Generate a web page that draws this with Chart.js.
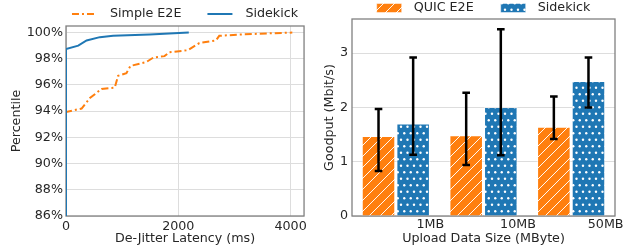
<!DOCTYPE html>
<html lang="en">
<head>
  <meta charset="UTF-8" />
  <title>De-jitter latency and goodput</title>
  <script src="https://cdn.jsdelivr.net/npm/chart.js"></script>
  <style>
    body { margin: 0; background: #fff; }
    .wrap { position: relative; width: 631px; height: 250px; }
    #cdfChart { position: absolute; left: 0; top: 0; }
    #barChart { position: absolute; left: 310px; top: 0; }
  </style>
</head>
<body>
  <div class="wrap">
    <canvas id="cdfChart" width="310" height="250"></canvas>
    <canvas id="barChart" width="321" height="250"></canvas>
  </div>

  <script>
    // left: CDF of de-jitter latency (ms -> percentile)
    const e2eLatency = [0, 0, 278, 426, 633, 869, 928, 1076, 1147, 1430, 1560, 1755, 1844, 2168, 2376, 2672, 2730, 3085, 3676, 4031];
    const e2ePct     = [0, 93.94, 94.2, 95.0, 95.7, 95.8, 96.7, 96.9, 97.45, 97.75, 98.1, 98.2, 98.5, 98.65, 99.2, 99.4, 99.75, 99.85, 99.95, 100];
    const skLatency  = [0, 0, 218, 367, 603, 839, 1489, 2187];
    const skPct      = [0, 98.75, 99.0, 99.4, 99.65, 99.75, 99.85, 100];
    const cdfLabels  = ['Simple E2E', 'Sidekick'];
    const latencyTicks = [0, 2000, 4000];

    // right: goodput per upload size
    const sizes        = ['1MB', '10MB', '50MB'];
    const barLabels    = ['QUIC E2E', 'Sidekick'];
    const quicGoodput  = [1.48, 1.49, 1.65];
    const quicLow      = [0.83, 0.94, 1.42];
    const quicHigh     = [1.97, 2.27, 2.20];
    const skGoodput    = [1.71, 2.01, 2.49];
    const skLow        = [1.13, 1.12, 2.00];
    const skHigh       = [2.92, 3.44, 2.92];

    const ORANGE = '#ff7f0e';
    const BLUE = '#1f77b4';
    const TEXT = '#262626';
    const GRID = '#dddddd';
    const FONT = { family: 'DejaVu Sans', size: 12.7 };

    Chart.defaults.font.family = 'DejaVu Sans';
    Chart.defaults.color = TEXT;

    // hatch patterns
    function hatchPattern() {
      const c = document.createElement('canvas');
      c.width = 11; c.height = 11;
      const g = c.getContext('2d');
      g.fillStyle = ORANGE; g.fillRect(0, 0, 11, 11);
      g.strokeStyle = 'rgba(255,255,255,0.95)'; g.lineWidth = 1;
      g.beginPath();
      g.moveTo(-1, 12); g.lineTo(12, -1);
      g.moveTo(-1, 1); g.lineTo(1, -1);
      g.moveTo(10, 12); g.lineTo(12, 10);
      g.stroke();
      return g.createPattern(c, 'repeat');
    }
    function dotPattern() {
      const c = document.createElement('canvas');
      c.width = 13; c.height = 13;
      const g = c.getContext('2d');
      g.fillStyle = BLUE; g.fillRect(0, 0, 13, 13);
      g.fillStyle = '#ffffff';
      [[3.25, 3.25], [9.75, 3.25], [0, 9.75], [6.5, 9.75], [13, 9.75]].forEach(([x, y]) => {
        g.beginPath(); g.arc(x, y, 1.2, 0, Math.PI * 2); g.fill();
      });
      return g.createPattern(c, 'repeat');
    }
    const hatch = hatchPattern();
    const dots = dotPattern();

    // frame around the plot area
    const framePlugin = {
      id: 'frame',
      beforeDatasetsDraw(chart) {
        const { ctx, chartArea: a } = chart;
        ctx.save();
        ctx.strokeStyle = '#808080';
        ctx.lineWidth = 1.3;
        ctx.strokeRect(a.left, a.top, a.right - a.left, a.bottom - a.top);
        ctx.restore();
      }
    };

    // legend drawn above the plot area, centered on it
    const topLegend = {
      id: 'topLegend',
      afterDraw(chart, args, opts) {
        const { ctx, chartArea: a } = chart;
        ctx.save();
        ctx.font = FONT.size + 'px ' + FONT.family;
        ctx.textBaseline = 'middle';
        const widths = opts.items.map(it => opts.sampleW + opts.gap + ctx.measureText(it.text).width);
        const total = widths.reduce((s, w) => s + w, 0) + opts.spacing * (widths.length - 1);
        let x = (a.left + a.right) / 2 - total / 2;
        const y = opts.y;
        opts.items.forEach((it, i) => {
          if (it.kind === 'line') {
            ctx.strokeStyle = it.color;
            ctx.lineWidth = 2;
            ctx.setLineDash(it.dash || []);
            ctx.beginPath(); ctx.moveTo(x, y); ctx.lineTo(x + opts.sampleW, y); ctx.stroke();
            ctx.setLineDash([]);
          } else {
            ctx.fillStyle = it.fill;
            ctx.fillRect(x, y - 4.5, opts.sampleW, 9);
            ctx.strokeStyle = 'rgba(255,255,255,0.5)';
            ctx.lineWidth = 1;
            ctx.strokeRect(x, y - 4.5, opts.sampleW, 9);
          }
          ctx.fillStyle = TEXT;
          ctx.fillText(it.text, x + opts.sampleW + opts.gap, y);
          x += widths[i] + opts.spacing;
        });
        ctx.restore();
      }
    };

    // error bars on top of the bars
    const errorBars = {
      id: 'errorBars',
      afterDatasetsDraw(chart) {
        const { ctx } = chart;
        const yScale = chart.scales.y;
        ctx.save();
        ctx.strokeStyle = '#000';
        ctx.lineWidth = 2.5;
        chart.data.datasets.forEach((ds, i) => {
          chart.getDatasetMeta(i).data.forEach((bar, j) => {
            const lo = yScale.getPixelForValue(ds.errLow[j]);
            const hi = yScale.getPixelForValue(ds.errHigh[j]);
            ctx.beginPath();
            ctx.moveTo(bar.x, lo); ctx.lineTo(bar.x, hi);
            ctx.moveTo(bar.x - 3.8, lo); ctx.lineTo(bar.x + 3.8, lo);
            ctx.moveTo(bar.x - 3.8, hi); ctx.lineTo(bar.x + 3.8, hi);
            ctx.stroke();
          });
        });
        ctx.restore();
      }
    };

    new Chart(document.getElementById('cdfChart'), {
      type: 'line',
      data: {
        datasets: [{
          label: cdfLabels[0],
          data: e2eLatency.map((x, i) => ({ x, y: e2ePct[i] })),
          borderColor: ORANGE,
          borderWidth: 2,
          borderDash: [7, 3, 2, 3],
          pointRadius: 0,
          tension: 0,
          order: 1
        }, {
          label: cdfLabels[1],
          data: skLatency.map((x, i) => ({ x, y: skPct[i] })),
          borderColor: BLUE,
          borderWidth: 2,
          pointRadius: 0,
          tension: 0,
          order: 0
        }]
      },
      options: {
        responsive: false,
        animation: false,
        layout: { padding: { top: 26, right: 5, left: 0, bottom: 0 } },
        scales: {
          x: {
            type: 'linear', min: 0, max: 4240,
            grid: { color: GRID, drawTicks: false, tickLength: 0 },
            border: { display: false },
            afterBuildTicks(s) { s.ticks = latencyTicks.map(v => ({ value: v })); },
            ticks: { padding: 3, font: FONT, color: TEXT, maxRotation: 0, callback: v => String(v) },
            title: { display: true, text: 'De-Jitter Latency (ms)', font: FONT, color: TEXT, padding: { top: 3.5, bottom: 3.5 } },
            afterFit(s) { s.height = 34; }
          },
          y: {
            min: 86, max: 100.5,
            grid: { color: GRID, drawTicks: false, tickLength: 0 },
            border: { display: false },
            ticks: { stepSize: 2, includeBounds: false, padding: 3, font: FONT, color: TEXT, callback: v => v + '%' },
            title: { display: true, text: 'Percentile', font: FONT, color: TEXT, padding: { top: 9, bottom: 9 } },
            afterFit(s) { s.width = 66; }
          }
        },
        plugins: {
          legend: { display: false },
          tooltip: { enabled: false },
          topLegend: {
            y: 14, sampleW: 25, gap: 13, spacing: 26,
            items: [
              { kind: 'line', color: ORANGE, dash: [7, 3, 2, 3], text: cdfLabels[0] },
              { kind: 'line', color: BLUE, text: cdfLabels[1] }
            ]
          }
        }
      },
      plugins: [framePlugin, topLegend]
    });

    new Chart(document.getElementById('barChart'), {
      type: 'bar',
      data: {
        labels: sizes,
        datasets: [{
          label: barLabels[0],
          data: quicGoodput,
          errLow: quicLow,
          errHigh: quicHigh,
          backgroundColor: hatch,
          borderColor: 'rgba(255,255,255,0.45)',
          borderWidth: 1.2,
          categoryPercentage: 0.79,
          barPercentage: 0.98
        }, {
          label: barLabels[1],
          data: skGoodput,
          errLow: skLow,
          errHigh: skHigh,
          backgroundColor: dots,
          borderColor: 'rgba(255,255,255,0.45)',
          borderWidth: 1.2,
          categoryPercentage: 0.79,
          barPercentage: 0.98
        }]
      },
      options: {
        responsive: false,
        animation: false,
        layout: { padding: { top: 19, right: 16, left: 0, bottom: 0 } },
        scales: {
          x: {
            grid: { display: false, drawTicks: false, tickLength: 0 },
            border: { display: false },
            ticks: { labelOffset: 34.5, padding: 1, font: FONT, color: TEXT, maxRotation: 0 },
            title: { display: true, text: 'Upload Data Size (MByte)', font: FONT, color: TEXT, padding: { top: 3.5, bottom: 3.5 } },
            afterFit(s) { s.height = 34; }
          },
          y: {
            min: 0, max: 3.63,
            grid: { color: GRID, drawTicks: false, tickLength: 0 },
            border: { display: false },
            ticks: { stepSize: 1, includeBounds: false, padding: 4, font: FONT, color: TEXT },
            title: { display: true, text: 'Goodput (Mbit/s)', font: FONT, color: TEXT, padding: { top: 12, bottom: 12 } },
            afterFit(s) { s.width = 42; }
          }
        },
        plugins: {
          legend: { display: false },
          tooltip: { enabled: false },
          topLegend: {
            y: 8, sampleW: 25, gap: 12, spacing: 27,
            items: [
              { kind: 'box', fill: hatch, text: barLabels[0] },
              { kind: 'box', fill: dots, text: barLabels[1] }
            ]
          }
        }
      },
      plugins: [framePlugin, topLegend, errorBars]
    });
  </script>
</body>
</html>
